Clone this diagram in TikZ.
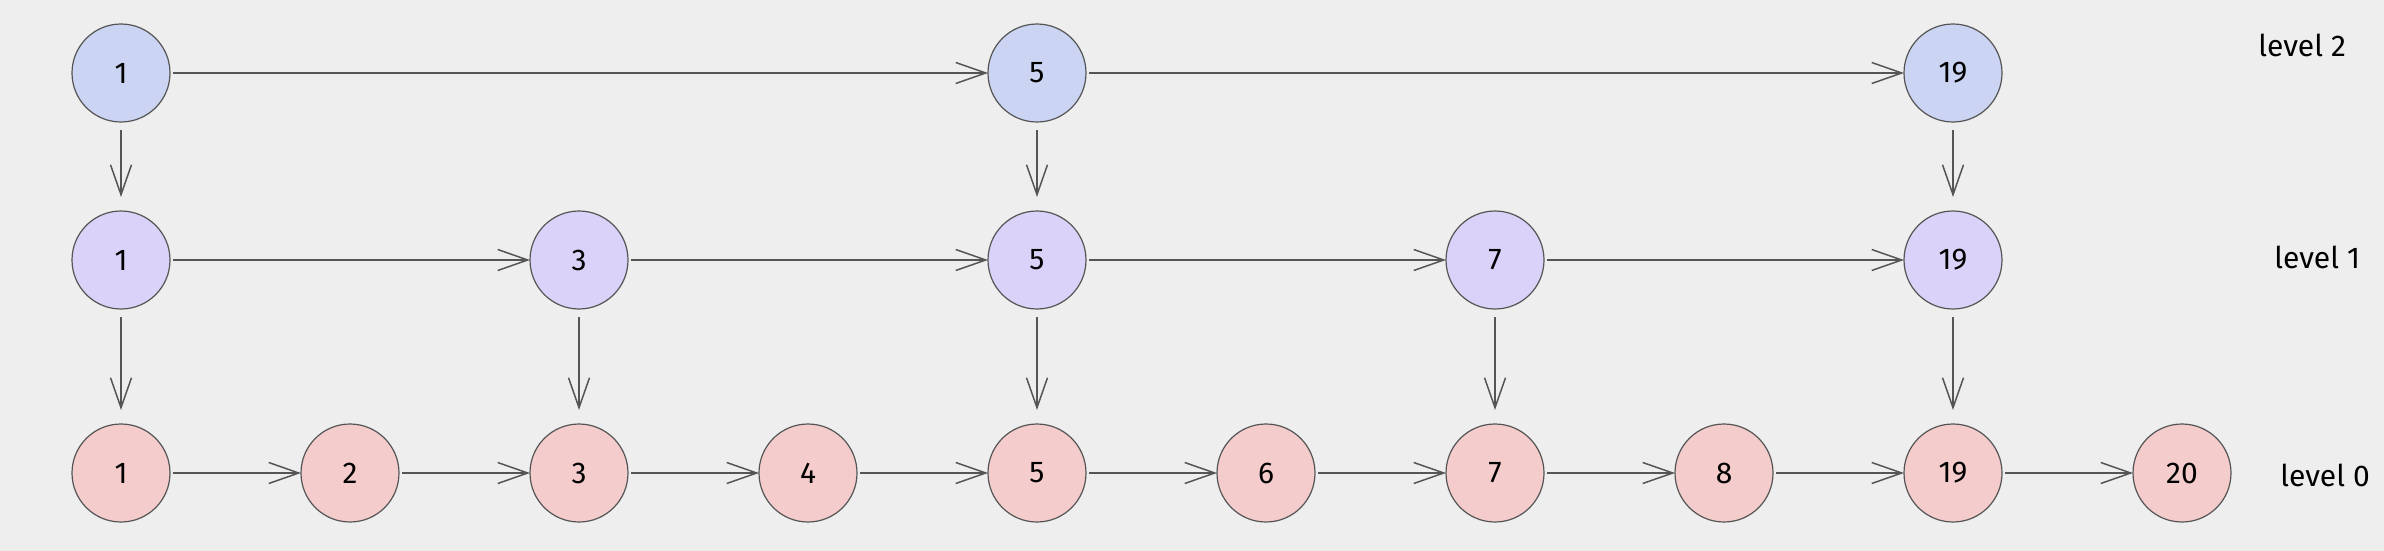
\documentclass[tikz,border=0pt]{standalone}
\usepackage{fontspec}
\setmainfont{Fira Sans}
\usetikzlibrary{positioning,arrows.meta}
\definecolor{paper}{HTML}{EEEEEE}
\definecolor{lvtwo}{HTML}{CBD5F3}
\definecolor{lvone}{HTML}{DAD2F8}
\definecolor{lvzero}{HTML}{F4CCCC}
\definecolor{ink}{HTML}{555555}
\begin{document}
\begin{tikzpicture}[
        x=0.5pt, y=-0.5pt,
        bluen/.style={fill=lvtwo},
        purplen/.style={fill=lvone},
        redn/.style={fill=lvzero},
        cell/.style={draw=ink, circle, minimum size=49pt, inner sep=0pt, outer sep=0pt, text centered, line width=0.6pt, font=\fontsize{15}{18}\selectfont},
        lbl/.style={anchor=west, inner sep=0pt, font=\fontsize{15}{18}\selectfont},
        hlink/.style={draw=ink, line width=0.75pt, -{Straight Barb[length=15pt,width=10.5pt]}, shorten <=1.5pt},
        vlink/.style={hlink, shorten <=4pt, shorten >=7pt},
        node distance=57.5pt and 65.5pt,
    ]
    \fill[paper] (0,0) rectangle (2384,551);
    % level 0
    \node[cell, redn] (l0-1) at (121,473) {1};
    \node[cell, redn, right=of l0-1] (l0-2) {2};
    \node[cell, redn, right=of l0-2] (l0-3) {3};
    \node[cell, redn, right=of l0-3] (l0-4) {4};
    \node[cell, redn, right=of l0-4] (l0-5) {5};
    \node[cell, redn, right=of l0-5] (l0-6) {6};
    \node[cell, redn, right=of l0-6] (l0-7) {7};
    \node[cell, redn, right=of l0-7] (l0-8) {8};
    \node[cell, redn, right=of l0-8] (l0-19) {19};
    \node[cell, redn, right=of l0-19] (l0-20) {20};
    % level 1
    \node[cell, purplen, above=of l0-1] (l1-1) {1};
    \node[cell, purplen, above=of l0-3] (l1-3) {3};
    \node[cell, purplen, above=of l0-5] (l1-5) {5};
    \node[cell, purplen, above=of l0-7] (l1-7) {7};
    \node[cell, purplen, above=of l0-19] (l1-19) {19};
    % level 2
    \node[cell, bluen, above=44.5pt of l1-1] (l2-1) {1};
    \node[cell, bluen, above=44.5pt of l1-5] (l2-5) {5};
    \node[cell, bluen, above=44.5pt of l1-19] (l2-19) {19};
    % labels
    \node[lbl] (lab2) at (2258,45) {level 2};
    \node[lbl] (lab1) at (2274,257) {level 1};
    \node[lbl] (lab0) at (2280,475) {level 0};
    % links
    \draw[hlink] (l0-1) -- (l0-2);
    \draw[hlink] (l0-2) -- (l0-3);
    \draw[hlink] (l0-3) -- (l0-4);
    \draw[hlink] (l0-4) -- (l0-5);
    \draw[hlink] (l0-5) -- (l0-6);
    \draw[hlink] (l0-6) -- (l0-7);
    \draw[hlink] (l0-7) -- (l0-8);
    \draw[hlink] (l0-8) -- (l0-19);
    \draw[hlink] (l0-19) -- (l0-20);
    \draw[hlink] (l1-1) -- (l1-3);
    \draw[hlink] (l1-3) -- (l1-5);
    \draw[hlink] (l1-5) -- (l1-7);
    \draw[hlink] (l1-7) -- (l1-19);
    \draw[hlink] (l2-1) -- (l2-5);
    \draw[hlink] (l2-5) -- (l2-19);
    \draw[vlink] (l2-1) -- (l1-1);
    \draw[vlink] (l2-5) -- (l1-5);
    \draw[vlink] (l2-19) -- (l1-19);
    \draw[vlink] (l1-1) -- (l0-1);
    \draw[vlink] (l1-3) -- (l0-3);
    \draw[vlink] (l1-5) -- (l0-5);
    \draw[vlink] (l1-7) -- (l0-7);
    \draw[vlink] (l1-19) -- (l0-19);
\end{tikzpicture}
\end{document}
